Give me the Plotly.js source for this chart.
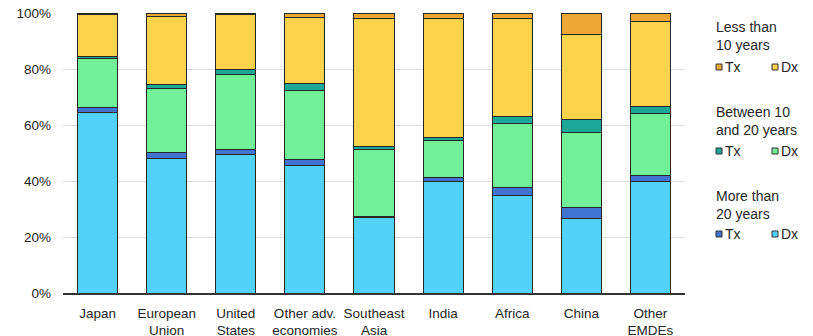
<!DOCTYPE html>
<html>
<head>
<meta charset="utf-8">
<script src="https://cdn.plot.ly/plotly-3.0.1.min.js"></script>
<style>html,body{margin:0;padding:0;background:#fff;}#chart{width:813px;height:336px;}</style>
</head>
<body>
<div id="chart"></div>
<script>
const categories = ["Japan","European<br>Union","United<br>States","Other adv.<br>economies","Southeast<br>Asia","India","Africa","China","Other<br>EMDEs"];
const dxMore20 = [64.6, 48.1, 49.3, 45.6, 26.8, 39.8, 35.0, 26.7, 39.8];
const txMore20 = [1.8, 2.0, 2.0, 2.1, 0.5, 1.3, 2.7, 4.0, 2.3];
const dx10to20 = [17.4, 22.9, 26.7, 24.7, 23.8, 13.2, 22.9, 26.6, 21.9];
const tx10to20 = [0.5, 1.4, 1.8, 2.5, 1.2, 1.1, 2.3, 4.6, 2.7];
const dxLess10 = [15.3, 24.2, 19.5, 23.4, 45.6, 42.8, 35.3, 30.5, 30.4];
const txLess10 = [0.4, 1.4, 0.7, 1.7, 2.1, 1.8, 1.8, 7.6, 2.9];
const yTicks = [0, 20, 40, 60, 80, 100];
const yTickLabels = ["0%", "20%", "40%", "60%", "80%", "100%"];
const legendGroups = ["Less than<br>10 years", "Between 10<br>and 20 years", "More than<br>20 years"];
const legendItems = ["Tx", "Dx"];

const colors = {
  dxMore: '#52D1FA', txMore: '#4173D0',
  dxMid: '#70F198', txMid: '#1BA899',
  dxLess: '#FCD34A', txLess: '#EEA734'
};
const line = {color: '#262626', width: 1};
function bar(name, y, color) {
  return {type: 'bar', name: name, x: categories, y: y, showlegend: false,
    marker: {color: color, line: line}, hoverinfo: 'skip'};
}
const data = [
  bar('Dx >20', dxMore20, colors.dxMore),
  bar('Tx >20', txMore20, colors.txMore),
  bar('Dx 10-20', dx10to20, colors.dxMid),
  bar('Tx 10-20', tx10to20, colors.txMid),
  bar('Dx <10', dxLess10, colors.dxLess),
  bar('Tx <10', txLess10, colors.txLess)
];
const font = {family: 'Liberation Sans, Arial, sans-serif', size: 13.5, color: '#262626'};
const legFont = {family: 'Liberation Sans, Arial, sans-serif', size: 14, color: '#262626'};

// legend (drawn in container pixel coordinates, converted to paper)
const L = 63, R = 685, T = 13, B = 293;
const px = x => (x - L) / (R - L);
const py = y => (B - y) / (B - T);
const groupColors = [[colors.txLess, colors.dxLess], [colors.txMid, colors.dxMid], [colors.txMore, colors.dxMore]];
const groupTop = [17, 102, 186];
const itemY = [67, 151, 234];
const itemX = [716, 772];
const annotations = [], shapes = [];
legendGroups.forEach((g, i) => {
  annotations.push({text: g, xref: 'paper', yref: 'paper', x: px(714), y: py(groupTop[i]),
    xanchor: 'left', yanchor: 'top', align: 'left', showarrow: false, font: legFont});
  legendItems.forEach((it, j) => {
    shapes.push({type: 'rect', xref: 'paper', yref: 'paper',
      x0: px(itemX[j]), x1: px(itemX[j] + 6), y0: py(itemY[i] - 3), y1: py(itemY[i] + 3),
      fillcolor: groupColors[i][j], line: {color: '#333', width: 1}});
    annotations.push({text: it, xref: 'paper', yref: 'paper', x: px(itemX[j] + 7), y: py(itemY[i]),
      xanchor: 'left', yanchor: 'middle', showarrow: false, font: legFont});
  });
});

const layout = {
  width: 813, height: 336,
  margin: {l: L, r: 813 - R, t: T, b: 336 - B, autoexpand: false},
  barmode: 'stack', bargap: 0.42,
  paper_bgcolor: '#fff', plot_bgcolor: '#fff',
  font: font, showlegend: false,
  xaxis: {showgrid: false, showline: true, linecolor: '#333', linewidth: 1.5, ticks: '',
    tickfont: font, fixedrange: true, ticklabelstandoff: 7},
  yaxis: {range: [0, 100], tickvals: yTicks, ticktext: yTickLabels, showgrid: true,
    gridcolor: '#dedede', gridwidth: 1, zeroline: false, showline: false, ticks: '',
    ticklabelstandoff: 11, tickfont: font},
  annotations: annotations, shapes: shapes
};
Plotly.newPlot('chart', data, layout, {displayModeBar: false, staticPlot: true});
</script>
</body>
</html>
